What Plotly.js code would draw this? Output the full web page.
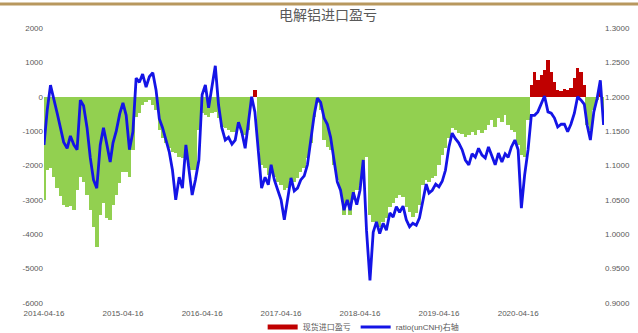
<!DOCTYPE html>
<html><head><meta charset="utf-8">
<script src="https://cdn.plot.ly/plotly-3.0.1.min.js"></script>
<style>html,body{margin:0;padding:0;background:#fff}#chart{width:638px;height:333px}</style>
</head><body><div id="chart"></div>
<script>
const dates = [
 '2014-04-16','2014-05-01','2014-05-16','2014-06-01','2014-06-16','2014-07-01','2014-07-16','2014-08-01','2014-08-16','2014-09-01','2014-09-16','2014-10-01','2014-10-16','2014-11-01','2014-11-16','2014-12-01','2014-12-16',
 '2015-01-01','2015-01-16','2015-02-01','2015-02-16','2015-03-01','2015-03-16','2015-04-01','2015-04-16','2015-05-01','2015-05-16','2015-06-01','2015-06-16','2015-07-01','2015-07-16','2015-08-01','2015-08-16','2015-09-01','2015-09-16','2015-10-01','2015-10-16','2015-11-01','2015-11-16','2015-12-01','2015-12-16',
 '2016-01-01','2016-01-16','2016-02-01','2016-02-16','2016-03-01','2016-03-16','2016-04-01','2016-04-16','2016-05-01','2016-05-16','2016-06-01','2016-06-16','2016-07-01','2016-07-16','2016-08-01','2016-08-16','2016-09-01','2016-09-16','2016-10-01','2016-10-16','2016-11-01','2016-11-16','2016-12-01','2016-12-16',
 '2017-01-01','2017-01-16','2017-02-01','2017-02-16','2017-03-01','2017-03-16','2017-04-01','2017-04-16','2017-05-01','2017-05-16','2017-06-01','2017-06-16','2017-07-01','2017-07-16','2017-08-01','2017-08-16','2017-09-01','2017-09-16','2017-10-01','2017-10-16','2017-11-01','2017-11-16','2017-12-01','2017-12-16',
 '2018-01-01','2018-01-16','2018-02-01','2018-02-16','2018-03-01','2018-03-16','2018-04-01','2018-04-16','2018-05-01','2018-05-16','2018-06-01','2018-06-16','2018-07-01','2018-07-16','2018-08-01','2018-08-16','2018-09-01','2018-09-16','2018-10-01','2018-10-16','2018-11-01','2018-11-16','2018-12-01','2018-12-16',
 '2019-01-01','2019-01-16','2019-02-01','2019-02-16','2019-03-01','2019-03-16','2019-04-01','2019-04-16','2019-05-01','2019-05-16','2019-06-01','2019-06-16','2019-07-01','2019-07-16','2019-08-01','2019-08-16','2019-09-01','2019-09-16','2019-10-01','2019-10-16','2019-11-01','2019-11-16','2019-12-01','2019-12-16',
 '2020-01-01','2020-01-16','2020-02-01','2020-02-16','2020-03-01','2020-03-16','2020-04-01','2020-04-16','2020-05-01','2020-05-16','2020-06-01','2020-06-16','2020-07-01','2020-07-16','2020-08-01','2020-08-16','2020-09-01','2020-09-16','2020-10-01','2020-10-16','2020-11-01','2020-11-16','2020-12-01','2020-12-16',
 '2021-01-01','2021-01-16','2021-02-01','2021-02-16','2021-03-01','2021-03-16','2021-04-01','2021-04-16','2021-05-01','2021-05-16'
];
// 现货进口盈亏 (元/吨), left axis
const importProfit = [
 -3000,-2130,-2070,-2330,-2650,-2890,-3150,-3210,-3180,-3290,-2710,-2330,-2480,-2860,-3290,-3790,-4370,
 -3440,-3090,-3530,-3590,-3150,-2860,-2510,-2190,-2190,-2330,-1550,-590,-470,-240,-150,-100,-240,-390,-970,-1200,-1350,-1490,-1610,-1640,
 -1750,-1780,-1840,-1990,-2130,-2130,-970,-470,-530,-590,-470,-440,-620,-880,-910,-970,-1030,-1030,-910,-1060,-1110,-970,-150,200,
 -1550,-1990,-2070,-2280,-2190,-2330,-2480,-2570,-2710,-2650,-2420,-2480,-2360,-2190,-2070,-1780,-1350,-590,-180,-390,-1260,-1460,-1550,-1990,
 -2420,-2710,-3440,-3150,-3440,-3000,-2710,-2570,-2130,-1750,-3440,-3640,-3730,-3790,-3640,-3530,-3210,-3090,-2950,-2860,-2920,-3210,-3350,-3500,
 -3380,-3150,-2570,-2420,-2480,-2360,-2310,-1990,-1690,-1490,-1200,-910,-970,-1050,-1080,-1170,-1110,-1030,-1110,-970,-1050,-970,-820,-680,
 -880,-620,-740,-530,-820,-970,-1030,-1400,-1690,-1750,-680,340,720,490,630,780,1070,720,430,200,170,230,200,260,
 550,840,720,340,-820,-970,-390,-100,280,-740
];
// ratio(unCNH), right axis
const ratio = [
 1.130,1.181,1.217,1.198,1.176,1.155,1.134,1.125,1.143,1.130,1.123,1.195,1.187,1.155,1.111,1.079,1.067,
 1.130,1.155,1.130,1.105,1.133,1.150,1.175,1.191,1.173,1.123,1.149,1.227,1.221,1.233,1.214,1.229,1.235,1.210,1.168,1.155,1.137,1.120,1.093,1.050,
 1.083,1.067,1.130,1.093,1.057,1.079,1.108,1.203,1.217,1.184,1.217,1.245,1.188,1.155,1.137,1.141,1.131,1.137,1.163,1.149,1.125,1.166,1.200,1.178,
 1.120,1.067,1.083,1.072,1.101,1.079,1.064,1.050,1.021,1.050,1.082,1.063,1.067,1.079,1.085,1.101,1.137,1.173,1.198,1.192,1.169,1.160,1.141,1.112,
 1.076,1.064,1.035,1.050,1.035,1.061,1.043,1.064,1.108,1.006,0.933,1.003,1.018,1.001,1.016,1.006,1.031,1.025,1.040,1.032,1.041,1.021,1.011,1.016,
 1.013,1.024,1.050,1.073,1.060,1.064,1.073,1.069,1.077,1.093,1.127,1.147,1.139,1.133,1.123,1.108,1.101,1.117,1.112,1.125,1.115,1.111,1.127,1.115,
 1.101,1.118,1.105,1.117,1.112,1.127,1.137,1.123,1.038,1.086,1.123,1.173,1.173,1.178,1.191,1.201,1.178,1.176,1.169,1.156,1.160,1.160,1.149,1.160,
 1.176,1.200,1.195,1.189,1.159,1.137,1.178,1.197,1.224,1.159
];
const xTickVals = ['2014-04-16','2015-04-16','2016-04-16','2017-04-16','2018-04-16','2019-04-16','2020-04-16'];
const leftTicks = [2000,1000,0,-1000,-2000,-3000,-4000,-5000,-6000];
const rightTicks = [1.30,1.25,1.20,1.15,1.10,1.05,1.00,0.95,0.90];
const chartTitle = '电解铝进口盈亏';
const profitName = '现货进口盈亏';
const ratioName = 'ratio(unCNH)右轴';

const GREEN = '#92d050', RED = '#c00000', BLUE = '#1414e6', GREY = '#595959';
const barW = 16 * 86400000;

const traces = [
  {type:'bar', x:dates, y:importProfit.map(v => v < 0 ? v : null), marker:{color:GREEN, line:{width:0}},
   width:barW, showlegend:false, hoverinfo:'skip', yaxis:'y'},
  {type:'bar', x:dates, y:importProfit.map(v => v > 0 ? v : null), marker:{color:RED, line:{width:0}},
   width:barW, showlegend:false, hoverinfo:'skip', yaxis:'y'},
  {type:'scatter', mode:'lines', x:[dates[0]], y:[null], name:profitName, line:{color:RED, width:5}, yaxis:'y'},
  {type:'scatter', mode:'lines', x:dates, y:ratio, name:ratioName, line:{color:BLUE, width:2.8}, yaxis:'y2'}
];

const layout = {
  width:638, height:333,
  margin:{l:44, r:34, t:28, b:30},
  paper_bgcolor:'#ffffff', plot_bgcolor:'#ffffff',
  font:{family:'Liberation Sans, Noto Sans CJK SC, sans-serif', size:8, color:GREY},
  title:{text:chartTitle, x:0.514, xref:'container', y:0.955, yref:'container', yanchor:'middle', xanchor:'center',
         font:{family:'Noto Sans CJK SC, sans-serif', size:14, color:GREY}},
  barmode:'overlay', bargap:0,
  xaxis:{type:'date', range:['2014-04-16','2021-05-18'], tickvals:xTickVals, ticktext:xTickVals, automargin:false,
         ticklabelstandoff:4, showgrid:false, zeroline:false, showline:false, ticks:'', tickfont:{size:8, color:GREY}},
  yaxis:{range:[-6000,2000], tickvals:leftTicks, ticktext:leftTicks.map(String), showgrid:false, zeroline:false, showline:false,
         automargin:false, ticks:'', tickfont:{size:8, color:GREY}},
  yaxis2:{range:[0.9,1.3], overlaying:'y', side:'right', tickvals:rightTicks, ticktext:rightTicks.map(v => v.toFixed(4)),
          automargin:false, showgrid:false, zeroline:false, showline:false, ticks:'', tickfont:{size:8, color:GREY}},
  legend:{orientation:'h', xref:'container', x:0.57, xanchor:'center', yref:'container', y:0.018, yanchor:'middle',
          font:{size:8, color:GREY}, bgcolor:'rgba(0,0,0,0)', traceorder:'normal'},
  shapes:[{type:'line', xref:'paper', yref:'paper', x0:-0.08, x1:1.07, y0:1.087, y1:1.087,
           line:{color:'#b8985e', width:3}}],
  showlegend:true
};

Plotly.newPlot('chart', traces, layout, {displayModeBar:false, staticPlot:true});
</script>
</body></html>
